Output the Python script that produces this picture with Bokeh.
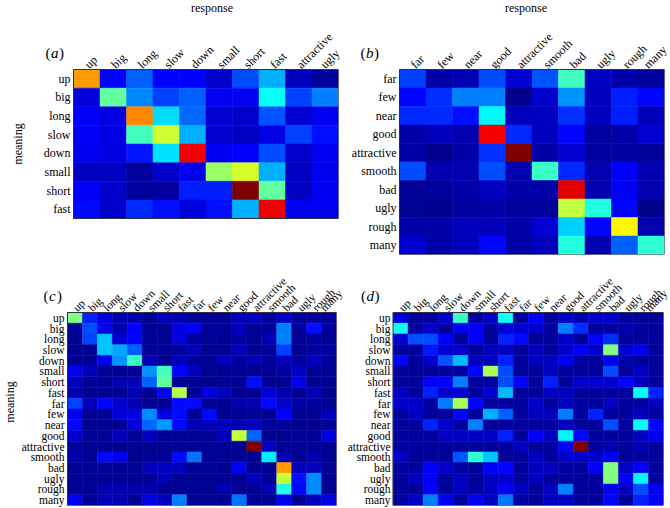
import math
import numpy as np
from bokeh.plotting import figure
from bokeh.models import ColumnDataSource, Range1d, FixedTicker, Label
from bokeh.transform import linear_cmap
from bokeh.layouts import column, row
from bokeh.embed import file_html
from bokeh.resources import INLINE

# ---------------- data ----------------
a_rows = ["up", "big", "long", "slow", "down", "small", "short", "fast"]
a_cols = ["up", "big", "long", "slow", "down", "small", "short", "fast", "attractive", "ugly"]
a_vals = [
    [0.72, 0.125, 0.22, 0.125, 0.125, 0.075, 0.2, 0.3, 0.06, 0.03],
    [0.09, 0.47, 0.26, 0.19, 0.22, 0.115, 0.115, 0.38, 0.19, 0.25],
    [0.12, 0.10, 0.74, 0.34, 0.23, 0.085, 0.075, 0.21, 0.085, 0.11],
    [0.12, 0.10, 0.44, 0.575, 0.30, 0.085, 0.065, 0.10, 0.19, 0.14],
    [0.11, 0.10, 0.145, 0.345, 0.89, 0.11, 0.125, 0.20, 0.075, 0.11],
    [0.065, 0.065, 0.03, 0.075, 0.11, 0.525, 0.585, 0.30, 0.065, 0.11],
    [0.12, 0.075, 0.03, 0.035, 0.155, 0.155, 1.0, 0.47, 0.065, 0.11],
    [0.135, 0.075, 0.165, 0.14, 0.09, 0.14, 0.30, 0.89, 0.11, 0.115],
]

b_rows = ["far", "few", "near", "good", "attractive", "smooth", "bad", "ugly", "rough", "many"]
b_cols = ["far", "few", "near", "good", "attractive", "smooth", "bad", "ugly", "rough", "many"]
b_vals = [
    [0.19, 0.04, 0.05, 0.20, 0.085, 0.21, 0.44, 0.07, 0.04, 0.03],
    [0.13, 0.17, 0.25, 0.25, 0.015, 0.075, 0.27, 0.06, 0.155, 0.13],
    [0.165, 0.165, 0.14, 0.37, 0.06, 0.07, 0.175, 0.06, 0.155, 0.06],
    [0.04, 0.06, 0.05, 0.88, 0.165, 0.06, 0.13, 0.03, 0.04, 0.085],
    [0.04, 0.015, 0.04, 0.175, 1.0, 0.04, 0.08, 0.03, 0.03, 0.025],
    [0.20, 0.05, 0.05, 0.20, 0.05, 0.43, 0.165, 0.05, 0.12, 0.05],
    [0.02, 0.03, 0.04, 0.065, 0.04, 0.04, 0.90, 0.05, 0.11, 0.05],
    [0.02, 0.015, 0.03, 0.04, 0.03, 0.03, 0.565, 0.41, 0.13, 0.015],
    [0.04, 0.04, 0.06, 0.06, 0.04, 0.085, 0.33, 0.13, 0.63, 0.05],
    [0.085, 0.04, 0.06, 0.13, 0.04, 0.06, 0.41, 0.05, 0.22, 0.42],
]

all_words = ["up", "big", "long", "slow", "down", "small", "short", "fast", "far",
             "few", "near", "good", "attractive", "smooth", "bad", "ugly", "rough", "many"]

c_vals = [
    [0.50, 0.16, 0.10, 0.05, 0.05, 0.02, 0.06, 0.05, 0.03, 0.02, 0.02, 0.06, 0.06, 0.03, 0.075, 0.03, 0.03, 0.03],
    [0.02, 0.20, 0.10, 0.05, 0.125, 0.02, 0.02, 0.10, 0.12, 0.03, 0.03, 0.06, 0.02, 0.03, 0.25, 0.03, 0.14, 0.03],
    [0.02, 0.19, 0.32, 0.085, 0.125, 0.02, 0.02, 0.10, 0.03, 0.02, 0.02, 0.04, 0.02, 0.05, 0.25, 0.02, 0.03, 0.02],
    [0.02, 0.02, 0.32, 0.29, 0.22, 0.02, 0.02, 0.03, 0.06, 0.02, 0.02, 0.06, 0.02, 0.03, 0.19, 0.02, 0.03, 0.03],
    [0.02, 0.02, 0.11, 0.27, 0.43, 0.05, 0.02, 0.06, 0.03, 0.02, 0.06, 0.03, 0.05, 0.03, 0.06, 0.03, 0.06, 0.03],
    [0.115, 0.06, 0.02, 0.02, 0.02, 0.27, 0.44, 0.13, 0.06, 0.02, 0.02, 0.02, 0.02, 0.02, 0.03, 0.07, 0.02, 0.02],
    [0.06, 0.02, 0.02, 0.05, 0.05, 0.22, 0.47, 0.02, 0.02, 0.02, 0.02, 0.02, 0.14, 0.02, 0.02, 0.11, 0.02, 0.02],
    [0.05, 0.02, 0.02, 0.02, 0.05, 0.02, 0.13, 0.55, 0.02, 0.10, 0.06, 0.02, 0.02, 0.085, 0.04, 0.02, 0.06, 0.02],
    [0.19, 0.06, 0.13, 0.085, 0.05, 0.02, 0.02, 0.135, 0.135, 0.02, 0.02, 0.05, 0.05, 0.135, 0.075, 0.04, 0.03, 0.02],
    [0.11, 0.02, 0.02, 0.09, 0.09, 0.265, 0.09, 0.135, 0.02, 0.135, 0.02, 0.02, 0.02, 0.02, 0.125, 0.02, 0.02, 0.06],
    [0.135, 0.02, 0.02, 0.02, 0.09, 0.225, 0.28, 0.135, 0.05, 0.06, 0.06, 0.06, 0.06, 0.03, 0.03, 0.02, 0.02, 0.02],
    [0.085, 0.02, 0.02, 0.06, 0.02, 0.06, 0.02, 0.02, 0.02, 0.02, 0.06, 0.565, 0.225, 0.02, 0.02, 0.02, 0.02, 0.10],
    [0.03, 0.02, 0.02, 0.02, 0.02, 0.02, 0.02, 0.02, 0.02, 0.02, 0.02, 0.02, 1.0, 0.06, 0.02, 0.02, 0.02, 0.02],
    [0.05, 0.02, 0.135, 0.11, 0.02, 0.02, 0.02, 0.135, 0.24, 0.02, 0.02, 0.02, 0.02, 0.36, 0.05, 0.02, 0.05, 0.02],
    [0.02, 0.02, 0.02, 0.02, 0.02, 0.06, 0.07, 0.06, 0.02, 0.02, 0.02, 0.11, 0.02, 0.02, 0.72, 0.06, 0.06, 0.02],
    [0.02, 0.02, 0.02, 0.02, 0.02, 0.02, 0.06, 0.02, 0.02, 0.02, 0.02, 0.02, 0.06, 0.02, 0.565, 0.14, 0.265, 0.02],
    [0.02, 0.02, 0.05, 0.05, 0.05, 0.05, 0.02, 0.02, 0.02, 0.02, 0.05, 0.02, 0.02, 0.05, 0.41, 0.13, 0.265, 0.02],
    [0.115, 0.02, 0.05, 0.05, 0.02, 0.10, 0.06, 0.25, 0.02, 0.02, 0.02, 0.24, 0.02, 0.02, 0.11, 0.02, 0.06, 0.10],
]

d_vals = [
    [0.10, 0.03, 0.03, 0.075, 0.43, 0.03, 0.075, 0.39, 0.03, 0.125, 0.03, 0.075, 0.05, 0.075, 0.075, 0.03, 0.03, 0.03],
    [0.39, 0.03, 0.075, 0.03, 0.12, 0.12, 0.03, 0.085, 0.085, 0.075, 0.03, 0.25, 0.17, 0.03, 0.03, 0.05, 0.03, 0.03],
    [0.085, 0.20, 0.20, 0.125, 0.03, 0.12, 0.03, 0.16, 0.135, 0.03, 0.03, 0.075, 0.03, 0.12, 0.17, 0.03, 0.03, 0.03],
    [0.03, 0.03, 0.15, 0.075, 0.075, 0.03, 0.065, 0.065, 0.03, 0.065, 0.03, 0.075, 0.12, 0.075, 0.50, 0.075, 0.11, 0.03],
    [0.13, 0.03, 0.075, 0.21, 0.31, 0.065, 0.065, 0.16, 0.03, 0.065, 0.065, 0.11, 0.03, 0.03, 0.11, 0.05, 0.03, 0.03],
    [0.03, 0.03, 0.03, 0.03, 0.03, 0.13, 0.54, 0.20, 0.03, 0.03, 0.065, 0.03, 0.03, 0.03, 0.20, 0.03, 0.065, 0.03],
    [0.03, 0.03, 0.12, 0.12, 0.25, 0.03, 0.03, 0.20, 0.12, 0.03, 0.16, 0.03, 0.075, 0.075, 0.075, 0.13, 0.065, 0.03],
    [0.065, 0.03, 0.16, 0.085, 0.075, 0.03, 0.085, 0.31, 0.03, 0.03, 0.065, 0.065, 0.03, 0.03, 0.03, 0.03, 0.38, 0.16],
    [0.085, 0.075, 0.03, 0.25, 0.54, 0.13, 0.03, 0.03, 0.03, 0.075, 0.03, 0.065, 0.03, 0.03, 0.065, 0.03, 0.03, 0.065],
    [0.03, 0.065, 0.03, 0.03, 0.13, 0.03, 0.30, 0.22, 0.03, 0.065, 0.065, 0.25, 0.03, 0.16, 0.03, 0.03, 0.065, 0.03],
    [0.03, 0.03, 0.16, 0.075, 0.03, 0.25, 0.03, 0.03, 0.03, 0.03, 0.03, 0.065, 0.03, 0.03, 0.20, 0.03, 0.38, 0.13],
    [0.03, 0.03, 0.03, 0.065, 0.065, 0.065, 0.065, 0.16, 0.03, 0.12, 0.065, 0.37, 0.13, 0.03, 0.03, 0.03, 0.065, 0.11],
    [0.03, 0.03, 0.03, 0.03, 0.03, 0.03, 0.03, 0.03, 0.065, 0.03, 0.03, 0.13, 1.0, 0.03, 0.05, 0.03, 0.05, 0.03],
    [0.075, 0.03, 0.03, 0.03, 0.21, 0.42, 0.32, 0.03, 0.03, 0.065, 0.03, 0.075, 0.075, 0.075, 0.11, 0.03, 0.03, 0.03],
    [0.03, 0.03, 0.12, 0.075, 0.03, 0.03, 0.12, 0.13, 0.03, 0.065, 0.065, 0.03, 0.03, 0.12, 0.50, 0.065, 0.12, 0.03],
    [0.03, 0.065, 0.12, 0.03, 0.065, 0.03, 0.065, 0.075, 0.03, 0.065, 0.03, 0.03, 0.03, 0.03, 0.50, 0.12, 0.37, 0.03],
    [0.03, 0.03, 0.12, 0.03, 0.065, 0.03, 0.065, 0.11, 0.065, 0.03, 0.065, 0.25, 0.03, 0.03, 0.12, 0.065, 0.20, 0.11],
    [0.03, 0.065, 0.25, 0.12, 0.03, 0.11, 0.065, 0.24, 0.03, 0.03, 0.065, 0.065, 0.03, 0.03, 0.13, 0.03, 0.16, 0.12],
]

# ---------------- style ----------------
def _jet_color(t):
    r = min(max(1.5 - abs(4 * t - 3), 0.0), 1.0)
    g = min(max(1.5 - abs(4 * t - 2), 0.0), 1.0)
    b = min(max(1.5 - abs(4 * t - 1), 0.0), 1.0)
    return "#%02x%02x%02x" % (int(round(r * 255)), int(round(g * 255)), int(round(b * 255)))

JET = [_jet_color(t) for t in np.linspace(0, 1, 256)]
FONT = "Liberation Serif"


def panel(rows, cols, vals, width, height, bottom, hm_left, hm_top, hm_w, hm_h, fsize,
          letter, letter_dx, meaning_dx=None, meaning_dy=0, response_dx=None):
    """Frame covers the canvas from its top-left corner to (right, bottom) borders;
    the heatmap occupies the given pixel box inside it."""
    nr, nc = len(rows), len(cols)
    cw = hm_w / nc
    rh = hm_h / nr
    right = width - hm_left - hm_w
    below = height - bottom - hm_top - hm_h      # empty frame space under the heatmap
    p = figure(width=width, height=height,
               x_range=Range1d(-hm_left / cw, nc),
               y_range=Range1d(-below / rh, nr + hm_top / rh),
               x_axis_location="above", toolbar_location=None, output_backend="svg",
               min_border_left=0, min_border_top=0,
               min_border_right=right, min_border_bottom=bottom)

    xs, ys, vs = [], [], []
    for i in range(nr):
        for j in range(nc):
            xs.append(j + 0.5)
            ys.append(nr - i - 0.5)
            vs.append(vals[i][j])
    src = ColumnDataSource(dict(x=xs, y=ys, v=vs))
    cmap = linear_cmap("v", JET, 0, 1)
    p.rect(x="x", y="y", width=1, height=1, source=src,
           fill_color=cmap, line_color=cmap, line_width=0.5)
    p.quad(left=0, right=nc, bottom=0, top=nr, fill_color=None,
           line_color="#303040", line_width=1)

    p.xgrid.visible = False
    p.ygrid.visible = False
    p.outline_line_color = None

    xt = [j + 0.5 for j in range(nc)]
    yt = [nr - i - 0.5 for i in range(nr)]
    p.xaxis.ticker = FixedTicker(ticks=xt, minor_ticks=[])
    p.yaxis.ticker = FixedTicker(ticks=yt, minor_ticks=[])
    p.xaxis.major_label_overrides = {t: c for t, c in zip(xt, cols)}
    p.yaxis.major_label_overrides = {t: r for t, r in zip(yt, rows)}
    for ax in (p.xaxis[0], p.yaxis[0]):
        ax.axis_line_color = None
        ax.major_tick_line_color = None
        ax.minor_tick_line_color = None
        ax.major_tick_out = 0
        ax.major_tick_in = 0
        ax.minor_tick_out = 0
        ax.minor_tick_in = 0
        ax.major_label_text_font = FONT
        ax.major_label_text_font_size = fsize
        ax.major_label_text_color = "black"
    p.xaxis.major_label_orientation = math.pi / 4
    # labels sit 3px outside the heatmap
    p.xaxis.major_label_standoff = -(hm_top - 3)
    p.yaxis.major_label_standoff = -(hm_left - 3)

    if meaning_dx is not None:
        p.add_layout(Label(x=0, y=nr / 2, x_offset=meaning_dx, y_offset=meaning_dy,
                           angle=math.pi / 2, text="meaning", text_font=FONT,
                           text_font_size="12px", text_align="center",
                           text_baseline="middle", text_color="black"))
    if response_dx is not None:
        p.add_layout(Label(x=nc / 2, y=nr, x_offset=response_dx, y_offset=hm_top - 7,
                           text="response", text_font=FONT, text_font_size="12px",
                           text_align="center", text_baseline="middle", text_color="black"))
    for txt, dx, style in (("(", 0, "normal"), (letter, 5.5, "italic"), (")", 13.5, "normal")):
        p.add_layout(Label(x=0, y=nr, x_offset=letter_dx + dx, y_offset=17, text=txt,
                           text_font=FONT, text_font_size="15px", text_font_style=style,
                           text_baseline="middle", text_color="black"))
    return p


# both plots of a row share the same frame height (the row aligns plot frames)
pa = panel(a_rows, a_cols, a_vals, 342, 266, 12, 73, 69, 265, 149, "12px", "a", -28,
           meaning_dx=-56, meaning_dy=0, response_dx=6)
pb = panel(b_rows, b_cols, b_vals, 327, 266, 12, 57, 69, 265, 185, "12px", "b", -39,
           response_dx=-6)
pc = panel(all_words, all_words, c_vals, 344, 241, 2, 67, 46, 269, 193, "11.5px", "c", -24,
           meaning_dx=-58, meaning_dy=7)
pd = panel(all_words, all_words, d_vals, 325, 241, 2, 46, 46, 273, 193, "11.5px", "d", -32)

layout = column(row(pa, pb), row(pc, pd))

open("out.html", "w").write(file_html(layout, INLINE))
